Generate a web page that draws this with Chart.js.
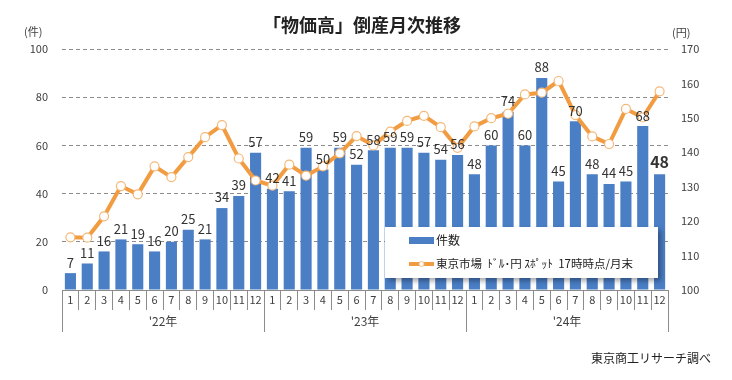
<!DOCTYPE html>
<html>
<head>
<meta charset="utf-8">
<script src="https://cdn.jsdelivr.net/npm/chart.js@4/dist/chart.umd.min.js"></script>
<style>
  html, body { margin: 0; padding: 0; background: #ffffff; }
  #wrap { width: 732px; height: 380px; position: relative; }
</style>
</head>
<body>
<div id="wrap"><canvas id="c" width="732" height="380"></canvas></div>
<script>
// ---- data ----
const months = ['1','2','3','4','5','6','7','8','9','10','11','12',
                '1','2','3','4','5','6','7','8','9','10','11','12',
                '1','2','3','4','5','6','7','8','9','10','11','12'];
const years = ["'22年", "'23年", "'24年"];
const counts = [7, 11, 16, 21, 19, 16, 20, 25, 21, 34, 39, 57,
                42, 41, 59, 50, 59, 52, 58, 59, 59, 57, 54, 56,
                48, 60, 74, 60, 88, 45, 70, 48, 44, 45, 68, 48];
const yen = [115.3, 115.2, 121.4, 130.2, 127.8, 135.9, 132.8, 138.6, 144.4, 147.9, 138.2, 131.8,
             130.3, 136.4, 133.2, 135.9, 139.7, 144.7, 142.0, 146.0, 149.1, 150.6, 147.3, 141.3,
             147.5, 149.9, 151.2, 156.8, 157.3, 160.7, 150.8, 144.6, 142.4, 152.6, 150.1, 157.7];
const countLabel = '件数';
const yenLabel = '東京市場  ﾄﾞﾙ･円 ｽﾎﾟｯﾄ  17時時点/月末';
const titleText = '「物価高」倒産月次推移';
const sourceText = '東京商工リサーチ調べ';

const JP = '"Noto Sans CJK JP", "Noto Sans", sans-serif';
const BLUE = '#4a7fc6';
const ORANGE = '#f29c42';
const AXIS = '#8c8c8c';
const TXT = '#404040';

const overlay = {
  id: 'overlay',
  afterDatasetsDraw(chart) {
    const ctx = chart.ctx;
    const meta = chart.getDatasetMeta(0);
    ctx.save();
    ctx.textAlign = 'center';
    ctx.textBaseline = 'bottom';
    ctx.fillStyle = '#333333';
    meta.data.forEach((bar, i) => {
      const last = i === counts.length - 1;
      ctx.font = (last ? 'bold 16px ' : '13px ') + JP;
      ctx.fillText(String(counts[i]), bar.x, bar.y - 4);
    });
    ctx.restore();

    // legend box
    const ds = chart.data.datasets;
    const bx = 385, by = 227, bw = 273, bh = 51;
    ctx.save();
    ctx.shadowColor = 'rgba(0,0,0,0.35)';
    ctx.shadowBlur = 5;
    ctx.shadowOffsetX = 3;
    ctx.shadowOffsetY = 3;
    ctx.fillStyle = '#ffffff';
    ctx.fillRect(bx, by, bw, bh);
    ctx.restore();
    ctx.save();
    ctx.fillStyle = ds[0].backgroundColor;
    ctx.fillRect(409, 237, 25, 7);
    ctx.strokeStyle = ds[1].borderColor;
    ctx.lineWidth = 4;
    ctx.beginPath(); ctx.moveTo(409, 264); ctx.lineTo(434, 264); ctx.stroke();
    ctx.fillStyle = '#ffffff';
    ctx.strokeStyle = '#f5c08a';
    ctx.lineWidth = 1;
    ctx.beginPath(); ctx.arc(421.5, 264, 2.5, 0, Math.PI * 2); ctx.fill(); ctx.stroke();
    ctx.fillStyle = '#222222';
    ctx.textAlign = 'left';
    ctx.textBaseline = 'middle';
    ctx.font = '12px ' + JP;
    ctx.fillText(ds[0].label, 436, 240);
    ctx.font = '11.5px ' + JP;
    ctx.fillText(ds[1].label, 436, 264);
    ctx.restore();
  },
  afterDraw(chart) {
    const ctx = chart.ctx;
    ctx.save();
    ctx.fillStyle = '#222222';
    ctx.font = 'bold 18px ' + JP;
    ctx.textAlign = 'center';
    ctx.textBaseline = 'middle';
    ctx.fillText(titleText, 362, 25);
    ctx.font = '11px ' + JP;
    ctx.fillStyle = TXT;
    ctx.textAlign = 'left';
    ctx.fillText('(件)', 24, 32);
    ctx.fillText('(円)', 672, 33);
    ctx.font = '12px ' + JP;
    ctx.fillStyle = '#222222';
    ctx.textAlign = 'right';
    ctx.fillText(sourceText, 711, 358);
    ctx.restore();
  }
};

new Chart(document.getElementById('c'), {
  type: 'bar',
  data: {
    labels: months,
    datasets: [
      {
        type: 'bar',
        label: countLabel,
        data: counts,
        backgroundColor: BLUE,
        borderWidth: 0,
        barPercentage: 0.66,
        categoryPercentage: 1.0,
        yAxisID: 'y',
        xAxisID: 'x',
        order: 2
      },
      {
        type: 'line',
        label: yenLabel,
        data: yen,
        borderColor: ORANGE,
        borderWidth: 4,
        pointRadius: 4.5,
        pointBackgroundColor: '#ffffff',
        pointBorderColor: '#f5b878',
        pointBorderWidth: 1.2,
        tension: 0,
        yAxisID: 'y1',
        xAxisID: 'x',
        order: 1
      }
    ]
  },
  options: {
    responsive: false,
    animation: false,
    layout: { padding: { top: 49, bottom: 28, left: 0, right: 0 } },
    plugins: {
      legend: { display: false },
      title: { display: false },
      tooltip: { enabled: false }
    },
    scales: {
      x: {
        type: 'category',
        position: 'bottom',
        weight: 0,
        offset: true,
        grid: { offset: true, drawOnChartArea: false, drawTicks: true, tickLength: 20, color: AXIS, lineWidth: 1 },
        border: { display: true, color: AXIS, width: 1 },
        ticks: { autoSkip: false, maxRotation: 0, padding: -17, color: TXT, font: { size: 11, family: JP } },
        afterFit: (a) => { a.height = 20; }
      },
      x2: {
        type: 'category',
        position: 'bottom',
        weight: 1,
        labels: years,
        offset: true,
        grid: { offset: true, drawOnChartArea: false, drawTicks: true, tickLength: 22, color: AXIS, lineWidth: 1 },
        border: { display: false },
        ticks: { autoSkip: false, maxRotation: 0, padding: -18, color: TXT, font: { size: 12, family: JP } },
        afterFit: (a) => { a.height = 42; }
      },
      y: {
        position: 'left',
        min: 0,
        max: 100,
        ticks: { stepSize: 20, padding: 14, color: TXT, font: { size: 11, family: JP } },
        grid: { color: AXIS, drawTicks: false, lineWidth: 1 },
        border: { display: false, dash: [4, 3] },
        afterFit: (a) => { a.width = 62; }
      },
      y1: {
        position: 'right',
        min: 100,
        max: 170,
        ticks: { stepSize: 10, padding: 13, color: TXT, font: { size: 11, family: JP } },
        grid: { display: false, drawTicks: false },
        border: { display: false },
        afterFit: (a) => { a.width = 64; }
      }
    }
  },
  plugins: [overlay]
});
</script>
</body>
</html>
